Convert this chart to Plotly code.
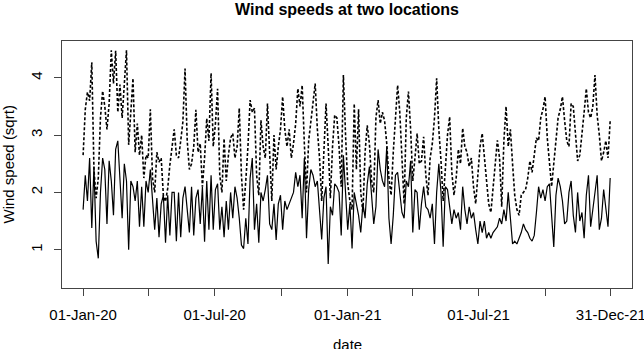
import pandas as pd
import plotly.graph_objects as go

# ---- data (one value every 3 days from 01-Jan-2020) ----
START_DATE = "2020-01-01"
END_DATE = "2021-12-31"
STEP_DAYS = 3

# location 1 (solid line), sqrt wind speed
loc1 = [
    1.70, 2.30, 1.85, 2.60, 1.38, 2.45, 1.15, 0.85, 2.00, 2.60,
    2.40, 1.45, 2.55, 2.20, 1.60, 2.75, 2.90, 2.10, 1.55, 2.50,
    2.20, 1.00, 2.20, 2.10, 1.85, 2.20, 1.40, 2.10, 1.40, 2.20,
    2.00, 2.40, 1.80, 1.35, 1.90, 1.22, 1.80, 1.95, 1.12, 1.95,
    1.25, 2.00, 2.00, 1.15,
    2.00, 1.22, 1.90, 2.10, 1.70, 1.30, 2.10, 1.25, 1.90, 2.05,
    1.45, 2.10, 1.14, 2.20, 1.35, 2.30, 1.35, 2.05, 2.15, 1.35,
    1.75, 1.22, 1.85, 1.35, 2.00, 1.55, 2.10, 1.90, 1.55, 1.08,
    1.02, 1.55, 1.10, 2.25, 2.60, 1.35, 1.80, 1.12, 2.00, 1.85,
    2.05, 2.30, 1.45, 1.35, 1.80, 1.17, 1.80, 1.95, 1.35, 1.85,
    1.70, 1.80, 1.90,
    2.00, 2.35, 2.10, 2.30, 1.55, 2.60, 1.20, 2.05, 2.40, 2.30,
    2.10, 2.20, 1.75, 1.18, 1.90, 2.10, 0.75, 1.75, 1.60, 2.15,
    2.10, 2.00, 1.25, 2.65, 2.00, 1.35, 1.80, 1.02, 2.00, 1.80,
    1.60, 1.30, 1.80, 1.55, 2.15, 2.45, 1.95, 1.45, 1.75, 2.75,
    2.40, 2.20, 2.10, 2.80, 1.55, 1.10, 1.60, 2.30, 2.35, 2.00,
    1.65, 1.55,
    2.20, 2.10, 2.55, 1.30, 2.05, 2.00, 1.35, 1.80, 2.10, 1.75,
    1.70, 1.55, 1.80, 1.10, 2.00, 2.50, 2.00, 1.05, 2.10, 2.05,
    1.75, 1.45, 1.70, 1.55, 1.65, 1.35, 2.10, 1.70, 1.45, 1.75,
    1.55, 1.65, 1.35, 1.10, 1.50, 1.30, 1.50, 1.20, 1.30, 1.20,
    1.30, 1.35, 1.40, 1.55, 1.45, 1.70, 1.50, 2.00, 1.50, 1.10,
    1.15, 1.10, 1.20,
    1.30, 1.45, 1.35, 1.30, 1.20, 1.15, 1.25, 1.65, 2.10, 1.90,
    2.05, 1.85, 2.10, 2.15, 1.65, 1.05, 1.95, 2.25, 2.10, 1.85,
    1.45, 1.50, 2.00, 2.20, 1.60, 1.30, 2.00, 1.50, 1.65, 1.20,
    1.95, 2.30, 1.40, 1.70, 2.00, 2.30, 1.35, 1.55, 2.05, 1.70,
    1.40, 2.25,
]

# location 2 (dotted line), sqrt wind speed
loc2 = [
    2.65, 3.45, 3.75, 3.60, 4.27, 2.40, 1.90, 2.25, 3.30, 3.77,
    3.50, 3.10, 3.55, 4.48, 3.90, 4.47, 3.40, 3.88, 3.30, 4.00,
    4.48, 2.83, 3.50, 3.99, 2.70, 3.20, 2.65, 3.00, 2.25, 2.65,
    2.60, 3.45, 2.25, 2.00, 2.70, 2.53, 2.60, 1.95, 1.84, 2.07,
    2.48, 2.83, 3.10, 2.65,
    2.60, 2.90, 3.23, 4.16, 2.90, 2.40, 2.50, 2.80, 3.44, 2.70,
    2.85, 2.10, 2.60, 3.29, 2.90, 4.08, 2.80, 3.20, 3.81, 2.30,
    2.00, 2.94, 2.20, 2.65, 2.95, 3.03, 2.60, 2.80, 3.47, 2.30,
    1.70, 2.20, 2.80, 3.61, 3.40, 3.47, 2.30, 1.95, 3.26, 2.80,
    2.60, 3.55, 2.60, 1.85, 3.00, 2.40, 2.80, 3.10, 3.67, 3.10,
    2.80, 3.10, 2.60,
    2.85, 3.20, 3.81, 3.50, 3.87, 2.85, 2.00, 2.90, 3.20, 3.50,
    3.90, 3.10, 2.60, 1.85, 2.70, 3.55, 2.80, 1.90, 2.80, 3.35,
    3.30, 2.80, 2.10, 4.05, 3.00, 2.15, 1.85, 1.70, 3.55, 2.40,
    3.45, 2.00, 1.65, 2.70, 3.17, 2.85, 2.20, 2.00, 3.30, 3.61,
    3.20, 3.40, 3.25, 2.85, 2.25, 1.95, 2.70, 3.30, 3.87, 3.40,
    2.50, 1.80,
    3.30, 3.76, 3.10, 2.20, 2.60, 3.03, 2.50, 2.55, 2.97, 2.30,
    1.95, 2.60, 2.85, 3.30, 3.99, 3.10, 2.55, 1.85, 2.40, 3.00,
    3.32, 2.35, 1.95, 2.25, 2.75, 2.50, 3.12, 2.80, 2.70, 2.45,
    2.60, 2.10, 1.80, 2.25, 2.80, 3.03, 2.60, 2.30, 1.80, 1.65,
    2.10, 2.50, 2.91, 2.60, 1.75, 2.90, 3.50, 2.80, 3.10, 2.50,
    1.95, 1.70, 1.60,
    1.95, 2.00, 2.05, 2.25, 2.55, 2.35, 2.70, 2.95, 2.90, 3.30,
    3.45, 3.67, 2.95, 2.45, 2.10, 2.50, 2.85, 3.30, 3.45, 3.67,
    3.25, 2.90, 2.80, 3.55, 3.50, 2.95, 2.55, 2.65, 3.10, 3.40,
    3.81, 3.40, 3.30, 3.50, 4.05, 3.35, 3.00, 2.55, 2.70, 2.90,
    2.60, 3.25,
]

tick_dates = ["2020-01-01", "2020-04-01", "2020-07-01", "2020-10-01", "2021-01-01",
              "2021-04-01", "2021-07-01", "2021-10-01", "2021-12-31"]
tick_labels = ["01-Jan-20", "", "01-Jul-20", "", "01-Jan-21",
               "", "01-Jul-21", "", "31-Dec-21"]
y_ticks = [1, 2, 3, 4]

# ---- figure ----
dates = pd.date_range(START_DATE, periods=len(loc1), freq=f"{STEP_DAYS}D")
x0, x1 = pd.Timestamp(START_DATE), pd.Timestamp(END_DATE)
pad = (x1 - x0) * 0.04

FONT = "Liberation Sans, Arial, Helvetica, sans-serif"
FS = 15

fig = go.Figure()
fig.add_trace(go.Scatter(x=dates, y=loc1, mode="lines",
                         line=dict(color="black", width=1.2), name="Location 1"))
fig.add_trace(go.Scatter(x=dates, y=loc2, mode="lines",
                         line=dict(color="black", width=1.6, dash="3px,2px"), name="Location 2"))

fig.update_layout(
    width=644, height=349,
    margin=dict(l=62, r=12, t=41, b=61),
    paper_bgcolor="white", plot_bgcolor="white",
    showlegend=False,
    font=dict(family=FONT, size=FS, color="black"),
    title=dict(text="Wind speeds at two locations", x=0.5, xref="paper",
               y=1 - 9 / 349, yref="container", yanchor="middle",
               font=dict(family=FONT, size=16, color="black", weight="bold")),
)
fig.update_xaxes(
    type="date", range=[x0 - pad, x1 + pad],
    tickvals=tick_dates, ticktext=tick_labels,
    showgrid=False, zeroline=False,
    showline=True, mirror=True, linecolor="#444", linewidth=1,
    ticks="outside", ticklen=7, tickcolor="#444", tickwidth=1,
    tickfont=dict(family=FONT, size=FS, color="black"),
    ticklabelstandoff=6, ticklabeloverflow="allow",
    automargin=False,
)
fig.update_yaxes(
    range=[0.332, 4.642],
    tickvals=y_ticks, ticktext=[str(v) for v in y_ticks],
    tickangle=-90,
    showgrid=False, zeroline=False,
    showline=True, mirror=True, linecolor="#444", linewidth=1,
    ticks="outside", ticklen=7, tickcolor="#444", tickwidth=1,
    tickfont=dict(family=FONT, size=FS, color="black"),
    ticklabelstandoff=6, automargin=False,
)
fig.add_annotation(text="Wind speed (sqrt)", textangle=-90,
                   xref="paper", yref="paper", x=0, y=0.5,
                   xanchor="center", yanchor="middle", xshift=-54,
                   showarrow=False, font=dict(family=FONT, size=FS, color="black"))
fig.add_annotation(text="date", xref="paper", yref="paper", x=0.5, y=0,
                   xanchor="center", yanchor="top", yshift=-46,
                   showarrow=False, font=dict(family=FONT, size=FS, color="black"))

fig.write_html("out.html")
